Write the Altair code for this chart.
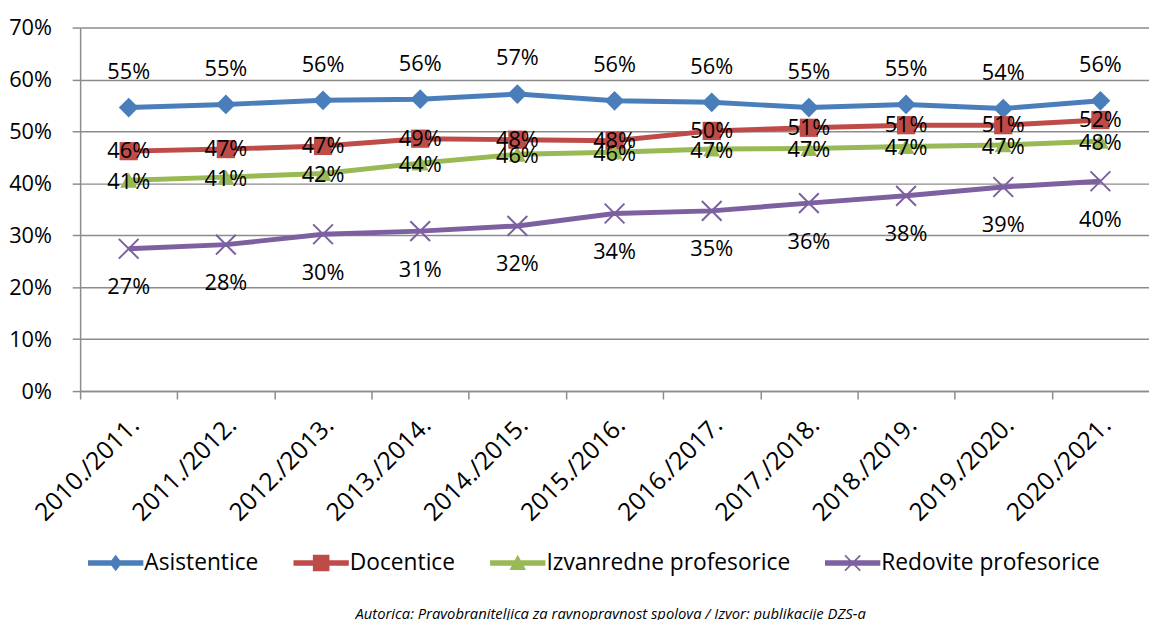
import altair as alt
import pandas as pd

years = ["2010./2011.", "2011./2012.", "2012./2013.", "2013./2014.", "2014./2015.",
         "2015./2016.", "2016./2017.", "2017./2018.", "2018./2019.", "2019./2020.",
         "2020./2021."]
series_names = ["Asistentice", "Docentice", "Izvanredne profesorice", "Redovite profesorice"]
asistentice = [54.6, 55.2, 56.0, 56.2, 57.2, 55.9, 55.6, 54.6, 55.2, 54.4, 55.9]
docentice = [46.2, 46.6, 47.2, 48.6, 48.4, 48.2, 50.1, 50.7, 51.2, 51.2, 52.2]
izvanredne = [40.6, 41.2, 41.9, 43.9, 45.6, 46.0, 46.6, 46.7, 47.1, 47.4, 48.1]
redovite = [27.4, 28.2, 30.2, 30.8, 31.8, 34.2, 34.7, 36.2, 37.6, 39.3, 40.4]
colors = ["#4a7ebb", "#be4b48", "#98b954", "#7d60a0"]
y_ticks = [0, 0.1, 0.2, 0.3, 0.4, 0.5, 0.6, 0.7]
footer = "Autorica: Pravobraniteljica za ravnopravnost spolova / Izvor: publikacije DZS-a"

rows = []
for name, vals in zip(series_names, [asistentice, docentice, izvanredne, redovite]):
    for yr, v in zip(years, vals):
        rows.append({"year": yr, "series": name, "value": v / 100.0})
df = pd.DataFrame(rows)

FONT = "Open Sans"
W = 1082
H = 368
STEP = W / len(years)

x_enc = alt.X("year:N", sort=years, title=None,
              axis=alt.Axis(labelAngle=-45, labelAlign="right", labelBaseline="middle",
                            labelFontSize=25, labelFont=FONT, labelColor="#000000",
                            tickOffset=-STEP / 2, labelOffset=STEP / 2 + 6,
                            tickSize=8, tickColor="#8c8c8c", tickWidth=1.5,
                            domainColor="#8c8c8c", domainWidth=1.5,
                            labelPadding=22, grid=False))
y_enc = alt.Y("value:Q", title=None,
              scale=alt.Scale(domain=[0, 0.7], nice=False, zero=True),
              axis=alt.Axis(values=y_ticks, format=".0%", labelFontSize=22, labelFont=FONT,
                            labelColor="#000000", tickSize=8, tickColor="#8c8c8c",
                            tickWidth=1.5, domainColor="#8c8c8c", domainWidth=1.5,
                            gridColor="#8c8c8c", gridWidth=1.5, labelPadding=21))

base = alt.Chart(df).encode(x=x_enc, y=y_enc)

marker_defs = [
    dict(shape="diamond", size=400, filled=True),
    dict(shape="square", size=340, filled=True),
    dict(shape="triangle-up", size=300, filled=True),
    dict(shape="M-1,-1L1,1M-1,1L1,-1", size=400, filled=False, strokeWidth=2),
]
series_layers = []
for name, col, kw in zip(series_names, colors, marker_defs):
    sub = base.transform_filter(alt.datum.series == name)
    series_layers.append(sub.mark_line(strokeWidth=5, color=col))
    series_layers.append(sub.mark_point(color=col, opacity=1, **kw))

leg_shapes = [
    "M-2,-0.2H2V0.2H-2Z M0,-0.6L0.46,0L0,0.6L-0.46,0Z",
    "M-2,-0.2H2V0.2H-2Z M-0.6,-0.6H0.6V0.6H-0.6Z",
    "M-2,-0.2H2V0.2H-2Z M0,-0.6L0.6,0.5L-0.6,0.5Z",
    "M-2,-0.2H2V0.2H-2Z M-0.508,-0.592L0.592,0.508L0.508,0.592L-0.592,-0.508Z "
    "M-0.508,0.592L-0.592,0.508L0.508,-0.592L0.592,-0.508Z",
]
leg = alt.Legend(title=None, orient="none", direction="horizontal",
                 legendX=22, legendY=528,
                 labelFontSize=23, labelFont=FONT, labelColor="#000000", labelLimit=0,
                 symbolSize=784, symbolStrokeWidth=0, symbolOpacity=1,
                 labelOffset=15, columnPadding=35)
legend_layer = base.mark_point(filled=True, opacity=0).encode(
    color=alt.Color("series:N", scale=alt.Scale(domain=series_names, range=colors),
                    legend=leg),
    shape=alt.Shape("series:N", scale=alt.Scale(domain=series_names, range=leg_shapes),
                    legend=leg))

label_dy = {"Asistentice": -36, "Docentice": 0, "Izvanredne profesorice": 2,
            "Redovite profesorice": 39}
text_layers = []
for name in series_names:
    text_layers.append(
        base.transform_filter(alt.datum.series == name).mark_text(
            font=FONT, fontSize=22, color="#000000", dy=label_dy[name],
            align="center", baseline="middle").encode(
            text=alt.Text("value:Q", format=".0%")))

chart = alt.layer(*series_layers, legend_layer, *text_layers).properties(
    width=W, height=H,
    padding={"left": 0, "top": 5, "right": 0, "bottom": 0},
    title=alt.TitleParams(footer, orient="bottom", fontSize=15, font=FONT,
                          fontStyle="italic", fontWeight="normal", color="#000000",
                          anchor="middle", frame="group", offset=33, dx=-4),
).configure_view(stroke=None)

chart.save("out.html", embed_options={"renderer": "svg", "actions": False})
